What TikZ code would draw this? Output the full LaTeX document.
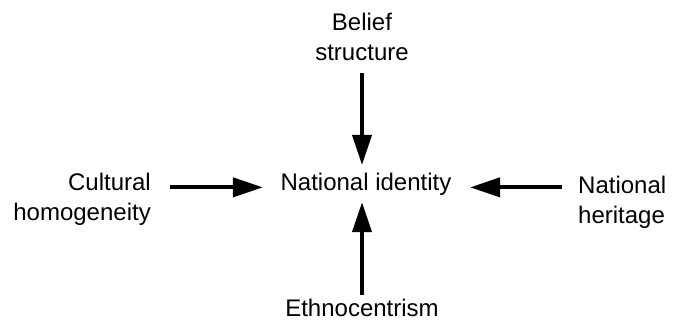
\documentclass[tikz,border=0pt]{standalone}
\usepackage{fontspec}
\setmainfont{Liberation Sans}
\usetikzlibrary{arrows.meta}
\tikzset{
  lbl/.style={inner sep=0pt, font=\fontsize{24}{30}\selectfont},
  arr/.style={line width=4pt, -{Triangle[length=30pt,width=19pt]}}
}
\begin{document}
\begin{tikzpicture}[x=1pt,y=-1pt]
	\useasboundingbox (0,0) rectangle (677,321);
	\node[lbl, anchor=base] (nid) at (366,190) {National identity};
	\node[lbl, anchor=north, align=center] (belief) at (362,12.5) {Belief\\structure};
	\node[lbl, anchor=north east, align=right] (cult) at (151,172.5) {Cultural\\homogeneity};
	\node[lbl, anchor=north west, align=left] (her) at (578,175.5) {National\\heritage};
	\node[lbl, anchor=base] (ethno) at (362,316) {Ethnocentrism};
	\draw[arr, shorten <=12pt, shorten >=7.5pt] (belief.south) -- (belief.south |- nid.north);
	\draw[arr, shorten <=3.5pt, shorten >=7pt] (ethno.north) -- (ethno.north |- nid.south);
	\draw[arr, shorten <=19pt, shorten >=17.5pt] (cult.east |- nid.mid) -- (nid.west |- nid.mid);
	\draw[arr, shorten <=16pt, shorten >=18.5pt] (her.west |- nid.mid) -- (nid.east |- nid.mid);
\end{tikzpicture}
\end{document}
